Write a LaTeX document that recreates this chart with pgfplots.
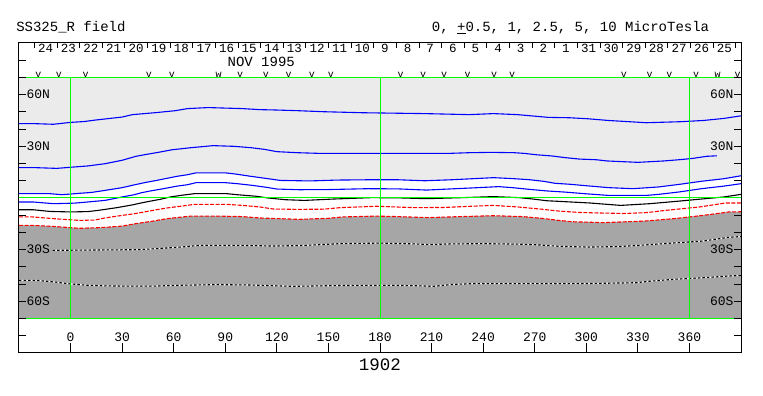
\documentclass[border=0pt]{standalone}
\usepackage{fontspec}
\setmainfont{Liberation Mono}
\usepackage{pgfplots}
\usepackage{pgfplotstable}
\pgfplotsset{compat=1.18}

\definecolor{lgray}{HTML}{EBEBEB}
\definecolor{dgray}{HTML}{A6A6A6}
\definecolor{cgreen}{HTML}{00FF00}
\definecolor{cblue}{HTML}{0000FF}
\definecolor{cred}{HTML}{FF0000}

\pgfplotstableread{
x y
-30 43.2
-22 43.2
-10 42.8
0 43.9
8 44.4
14 45.2
22 46.1
30 47.0
36 48.4
50 49.6
61 50.7
68 51.9
80 52.5
100 51.9
110 51.3
119 51.1
132 50.7
147 50.1
170 49.5
206 49.0
232 48.4
246 49.0
260 48.4
269 47.6
278 46.8
290 46.6
301 46.0
313 45.0
335 43.7
355 44.3
368 45.0
380 46.2
390 47.7
}\bone

\pgfplotstableread{
x y
-30 17.6
-20 17.6
-8 17.2
2 18.0
10 18.6
20 19.9
30 21.9
38 24.2
44 25.3
51 26.5
59 28.0
70 29.2
83 30.4
95 30.0
105 29.2
113 28.2
120 26.9
132 26.3
145 25.9
190 25.9
220 25.9
232 26.3
245 26.5
258 26.3
264 25.9
271 25.1
280 24.4
288 23.4
296 22.6
306 22.2
312 21.5
330 20.7
345 21.5
355 22.3
362 23.0
370 24.2
376 24.5
}\btwo

\pgfplotstableread{
x y
-30 2.5
-12 2.5
-5 1.9
5 2.7
12 3.2
20 4.4
30 6.0
37 7.6
43 8.9
50 10.2
56 11.4
62 12.6
68 13.5
73 14.6
90 14.6
96 13.9
104 12.7
112 11.6
122 10.2
139 9.9
155 10.4
175 10.6
190 10.6
206 10.0
222 10.6
234 11.2
246 11.8
258 11.2
267 10.6
275 9.7
282 8.5
290 8.0
299 7.2
313 6.0
327 5.4
342 6.4
354 7.9
367 9.7
380 11.2
390 12.9
}\bthree

\pgfplotstableread{
x y
-30 2.5
-12 2.5
-5 1.9
5 2.7
12 3.2
20 4.4
30 6.0
37 7.6
43 8.9
50 10.2
56 11.4
62 12.6
68 13.5
73 14.6
90 14.6
96 13.9
104 12.7
112 11.6
122 10.2
139 9.9
155 10.4
175 10.6
190 10.6
206 10.0
222 10.6
234 11.2
246 11.8
258 11.2
267 10.6
275 9.7
282 8.5
290 8.0
299 7.2
313 6.0
327 5.4
342 6.4
354 7.9
367 9.7
380 11.2
390 12.9
390 -70
-30 -70
}\whitezone

\pgfplotstableread{
x y
-30 -2.3
-22 -2.3
-10 -3.3
2 -3.0
8 -2.5
20 -1.4
30 0.6
37 1.9
41 3.0
46.5 4.1
54 5.4
62 6.9
68 7.7
73 8.9
90 8.9
97 8.3
106 7.3
114 6.2
120 5.2
133 4.8
150 4.9
173 5.4
190 5.3
207 4.6
224 5.4
237 6.0
249 6.6
257 6.0
267 5.0
277 4.1
288 3.4
299 2.5
313 1.5
335 1.5
342 2.1
354 3.5
367 5.4
380 6.9
390 8.3
}\bfour

\pgfplotstableread{
x y
-30 -6.8
-22 -6.8
-12 -7.8
0 -8.1
10 -7.9
16 -7.2
27 -5.6
36 -4.0
41 -2.9
46 -1.9
52 -0.8
58 0.6
64 1.5
72 2.5
91 2.5
97 1.9
108 1.0
115 0.0
125 -1.0
136 -1.4
153 -0.6
175 0.2
190 0.1
207 -0.4
228 0.2
246 0.8
261 0.2
269 -0.6
277 -1.6
285 -2.0
302 -2.9
320 -4.3
337 -3.3
353 -1.9
367 -0.6
380 0.6
390 2.1
}\blk

\pgfplotstableread{
x y
-30 -11.0
-22 -11.0
-10 -12.0
5 -13.0
14 -12.8
20 -11.6
30 -10.1
36 -9.3
43 -8.1
50 -6.8
56 -5.8
64 -4.8
72 -3.7
91 -3.7
100 -4.3
110 -5.2
118 -6.4
132 -6.6
147 -6.5
157 -5.6
178 -4.8
200 -5.6
217 -5.5
233 -4.8
246 -4.3
260 -5.2
273 -6.4
284 -7.6
296 -8.4
307 -8.7
322 -9.0
335 -8.5
346 -7.2
366 -5.2
381 -2.9
390 -2.9
}\rone

\pgfplotstableread{
x y
-30 -15.9
-22 -15.9
-10 -16.5
5 -17.6
15 -17.3
22 -16.9
30 -16.3
38 -14.9
48 -13.4
56 -12.0
70 -10.5
85 -10.5
100 -10.8
110 -11.6
133 -12.4
150 -11.8
158 -11.0
178 -10.5
190 -10.8
208 -11.4
227 -10.8
246 -10.3
263 -10.8
274 -11.8
284 -13.0
292 -13.8
310 -14.3
334 -13.4
351 -12.0
368 -10.1
383 -8.1
390 -8.0
}\rtwo

\pgfplotstableread{
x y
-30 -15.9
-22 -15.9
-10 -16.5
5 -17.6
15 -17.3
22 -16.9
30 -16.3
38 -14.9
48 -13.4
56 -12.0
70 -10.5
85 -10.5
100 -10.8
110 -11.6
133 -12.4
150 -11.8
158 -11.0
178 -10.5
190 -10.8
208 -11.4
227 -10.8
246 -10.3
263 -10.8
274 -11.8
284 -13.0
292 -13.8
310 -14.3
334 -13.4
351 -12.0
368 -10.1
383 -8.1
390 -8.0
390 -70
-30 -70
}\darkzone

\pgfplotstableread{
x y
-10.5 -30.4
40 -30.0
50 -29.4
64 -28.5
75 -27.5
99 -27.5
118 -27.9
135 -27.6
157 -26.5
180 -26.2
199 -26.6
209 -27.1
219 -26.7
240 -26.5
260 -26.8
270 -27.1
285 -28.1
302 -28.5
319 -28.2
331 -27.5
351 -26.1
368 -25.0
383 -22.8
390 -22.4
}\done

\pgfplotstableread{
x y
-30 -47.8
-20 -47.8
-9 -48.8
-1 -49.8
10 -50.7
20 -51.0
33 -51.2
48 -51.2
62 -50.7
85 -50.3
103 -50.5
130 -51.3
157 -50.8
186 -50.7
203 -51.0
211 -51.3
222 -50.2
235 -49.7
300 -49.7
329 -49.2
336 -48.4
351 -47.2
368 -46.3
383 -45.3
390 -45.0
}\dtwo

\pgfplotsset{
  base/.style={
    scale only axis, width=722pt, height=310pt,
    at={(19pt,43pt)}, anchor=south west,
    xmin=-30, xmax=390, ymin=-90, ymax=90,
    axis line style={black, line width=1pt},
    tick style={black, line width=0.8pt},
    tick align=inside,
    /pgf/number format/assume math mode=true,
  },
  cont/.style={line width=1.1pt},
}

\begin{document}
\begin{tikzpicture}
\useasboundingbox (0,0) rectangle (763pt,396pt);

% main axis: data and bottom ticks
\begin{axis}[base, axis on top,
  xtick={0,30,...,360},
  xticklabels={0,30,60,90,120,150,180,210,240,270,300,330,360},
  xtick pos=left, major tick length=10pt, ytick=\empty,
  xticklabel style={anchor=base, yshift=11pt, font=\fontsize{13}{13}\selectfont}]
  \addplot[fill=lgray, draw=none] coordinates {(-30,70) (390,70) (390,-70) (-30,-70)};
  \addplot[fill=white, draw=none] table[x=x,y=y] {\whitezone};
  \addplot[fill=dgray, draw=none] table[x=x,y=y] {\darkzone};
  \addplot[cont, cblue] table[x=x,y=y] {\bone};
  \addplot[cont, cblue] table[x=x,y=y] {\btwo};
  \addplot[cont, cblue] table[x=x,y=y] {\bthree};
  \addplot[cont, cblue] table[x=x,y=y] {\bfour};
  \addplot[cont, black] table[x=x,y=y] {\blk};
  \addplot[cont, cred, dash pattern=on 4pt off 1.5pt] table[x=x,y=y] {\rone};
  \addplot[cont, cred, dash pattern=on 4pt off 1.5pt] table[x=x,y=y] {\rtwo};
  \addplot[cont, white] table[x=x,y=y] {\done};
  \addplot[cont, black, dash pattern=on 2.5pt off 2pt] table[x=x,y=y] {\done};
  \addplot[cont, white] table[x=x,y=y] {\dtwo};
  \addplot[cont, black, dash pattern=on 2.5pt off 2pt] table[x=x,y=y] {\dtwo};
  % green grid lines
  \addplot[cgreen, line width=1pt] coordinates {(-30,70) (390,70)};
  \addplot[cgreen, line width=1pt] coordinates {(-30,0) (390,0)};
  \addplot[cgreen, line width=1pt] coordinates {(-30,-70) (390,-70)};
  \addplot[cgreen, line width=1pt] coordinates {(0,-70) (0,70)};
  \addplot[cgreen, line width=1pt] coordinates {(180,-70) (180,70)};
  \addplot[cgreen, line width=1pt] coordinates {(360,-70) (360,70)};
  % markers above the map
  \addplot[only marks, mark=text, text mark={v}, text mark as node=true,
    text mark style={font=\fontsize{10}{10}\selectfont, inner sep=0pt}]
    coordinates {(-18.8,71.3) (-6.8,71.3) (8.7,71.3) (45.5,71.3) (59.0,71.3) (98.7,71.3) (113.6,71.3)
      (126.8,71.3) (140.3,71.3) (151.4,71.3) (192.0,71.3) (205.1,71.3) (217.3,71.3) (230.9,71.3)
      (246.4,71.3) (256.8,71.3) (321.9,71.3) (336.8,71.3) (348.4,71.3) (363.9,71.3) (388.0,71.3)};
  \addplot[only marks, mark=text, text mark={w}, text mark as node=true,
    text mark style={font=\fontsize{10}{10}\selectfont, inner sep=0pt}]
    coordinates {(86.1,71.3) (376.4,71.3)};
\end{axis}

% left/right y ticks, left labels, outer texts
\begin{axis}[base, clip=false, xtick=\empty,
  ytick={-60,-30,30,60}, yticklabels={60S,30S,30N,60N},
  minor ytick={-80,-70,-50,-40,-20,-10,10,20,40,50,70,80},
  ytick pos=both, yticklabel pos=left,
  major tick length=7pt, minor tick length=7pt,
  yticklabel style={anchor=west, xshift=4pt, font=\fontsize{13}{13}\selectfont}]
  \addplot[draw=none] coordinates {(0,0) (10,10)};
  \node[anchor=base, font=\fontsize{14}{14}\selectfont] at (axis cs:110.9,76.4) {NOV 1995};
  \node[anchor=base west, font=\fontsize{14}{14}\selectfont, inner sep=0pt] at (axis cs:-31.7,96.4) {SS325\_R field};
  \node[anchor=base east, font=\fontsize{14}{14}\selectfont, inner sep=0pt] at (axis cs:371.6,96.4) {0, \underline{+}0.5, 1, 2.5, 5, 10 MicroTesla};
  \node[anchor=base, font=\fontsize{17.5}{17.5}\selectfont, inner sep=0pt] at (axis cs:180,-100.3) {1902};
\end{axis}

% right labels
\begin{axis}[base, xtick=\empty,
  ytick={-60,-30,30,60}, yticklabels={60S,30S,30N,60N},
  ytick pos=right, yticklabel pos=right,
  major tick length=7pt,
  yticklabel style={anchor=east, xshift=-4pt, font=\fontsize{13}{13}\selectfont}]
  \addplot[draw=none] coordinates {(0,0) (10,10)};
\end{axis}

% top date scale
\begin{axis}[base, ytick=\empty,
  xtick={-14.5,-1.34,...,381},
  xticklabels={24,23,22,21,20,19,18,17,16,15,14,13,12,11,10,9,8,7,6,5,4,3,2,1,31,30,29,28,27,26,25},
  minor xtick={-21.08,-7.92,...,388},
  xtick pos=right, xticklabel pos=right,
  major tick length=0pt, minor tick length=5pt,
  xticklabel style={anchor=base, yshift=-10pt, font=\fontsize{12.5}{12.5}\selectfont}]
  \addplot[draw=none] coordinates {(0,0) (10,10)};
\end{axis}
\end{tikzpicture}
\end{document}
